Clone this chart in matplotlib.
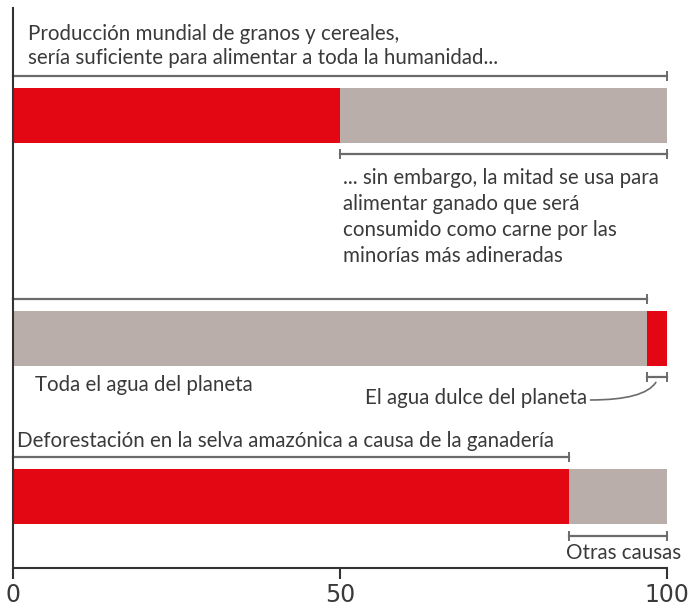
import matplotlib.pyplot as plt

# porcentajes de cada barra (rojo / gris)
granos_rojo = [50]
granos_gris = [50]
agua_gris = [97]
agua_rojo = [3]
selva_rojo = [85]
selva_gris = [15]

ticks = [0, 50, 100]
tick_labels = ["0", "50", "100"]

ROJO = "#e30613"
GRIS = "#b9aea9"
TEXTO = "#3a3a3a"
LINEA = "#6b6b6b"

plt.rcParams['font.family'] = ['Lato', 'DejaVu Sans']

W, H = 695, 606
fig = plt.figure(figsize=(W / 100, H / 100), dpi=100)
# ejes en pixeles verticales: 8 arriba, 568 abajo
ax = fig.add_axes([13 / W, (H - 568) / H, 654 / W, 560 / H])
ax.set_xlim(0, 100)
ax.set_ylim(568, 8)

alto = 55
y1, y2, y3 = 115.5, 338, 496.5

ax.barh(y1, granos_rojo, height=alto, color=ROJO)
ax.barh(y1, granos_gris, left=granos_rojo, height=alto, color=GRIS)
ax.barh(y2, agua_gris, height=alto, color=GRIS)
ax.barh(y2, agua_rojo, left=agua_gris, height=alto, color=ROJO)
ax.barh(y3, selva_rojo, height=alto, color=ROJO)
ax.barh(y3, selva_gris, left=selva_rojo, height=alto, color=GRIS)


def corchete(x0, x1, y):
    ax.plot([x0, x1], [y, y], color=LINEA, lw=1.6, marker='|',
            markersize=7, markeredgewidth=1.4, clip_on=False)


corchete(0, granos_rojo[0] + granos_gris[0], 76)
corchete(granos_rojo[0], granos_rojo[0] + granos_gris[0], 154)
corchete(0, agua_gris[0], 299)
corchete(agua_gris[0], agua_gris[0] + agua_rojo[0], 377)
corchete(0, selva_rojo[0], 457)
corchete(selva_rojo[0], selva_rojo[0] + selva_gris[0], 536)

fs = 14.8
ax.text(2.3, 46, "Producción mundial de granos y cereales,\n"
        "sería suficiente para alimentar a toda la humanidad...",
        fontsize=fs, color=TEXTO, va='center', ha='left', linespacing=1.22)
ax.text(50.5, 217, "... sin embargo, la mitad se usa para\n"
        "alimentar ganado que será\n"
        "consumido como carne por las\n"
        "minorías más adineradas",
        fontsize=fs, color=TEXTO, va='center', ha='left', linespacing=1.36)
ax.text(3.4, 385, "Toda el agua del planeta", fontsize=fs, color=TEXTO,
        va='center', ha='left')
ax.text(87.8, 398, "El agua dulce del planeta", fontsize=fs, color=TEXTO,
        va='center', ha='right')
# linea curva desde el texto hasta el corchete del agua dulce
ax.annotate("", xy=(agua_gris[0] + agua_rojo[0] / 2, 380), xytext=(88.3, 400),
            arrowprops=dict(arrowstyle='-', color=LINEA, lw=1.2,
                            shrinkA=0, shrinkB=2,
                            connectionstyle='angle3,angleA=0,angleB=65'))
ax.text(0.6, 441, "Deforestación en la selva amazónica a causa de la ganadería",
        fontsize=fs, color=TEXTO, va='center', ha='left')
ax.text(84.5, 553, "Otras causas", fontsize=fs, color=TEXTO,
        va='center', ha='left')

for lado in ['top', 'right']:
    ax.spines[lado].set_visible(False)
for lado in ['left', 'bottom']:
    ax.spines[lado].set_color("#333333")
    ax.spines[lado].set_linewidth(1.5)
ax.set_yticks([])
ax.set_xticks(ticks)
ax.set_xticklabels(tick_labels, family=['Liberation Sans Narrow', 'DejaVu Sans'],
                   fontsize=17, color=TEXTO)
ax.tick_params(axis='x', direction='out', length=8, width=1.5, color="#333333", pad=3)

fig.savefig("out.png", dpi=100)
